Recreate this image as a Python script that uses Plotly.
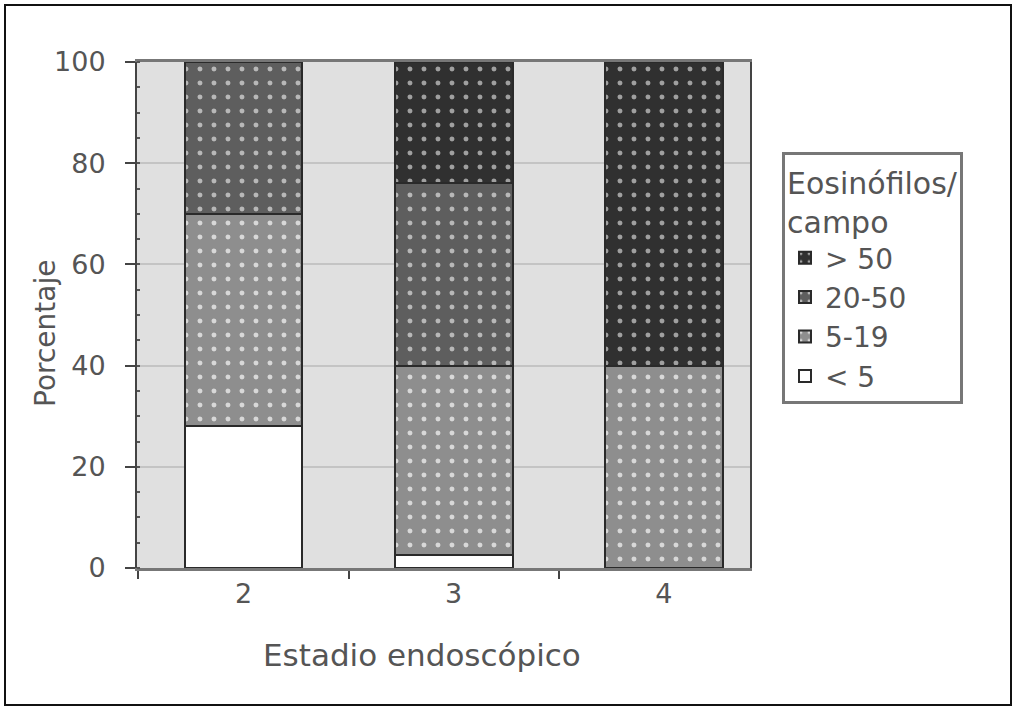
import plotly.graph_objects as go

categories = ["2", "3", "4"]
series_names = ["< 5", "5-19", "20-50", "> 50"]
lt5 = [28, 2.5, 0]
s5_19 = [42, 37.5, 40]
s20_50 = [30, 36, 0]
gt50 = [0, 24, 60]
y_ticks = [0, 20, 40, 60, 80, 100]

values = [lt5, s5_19, s20_50, gt50]
fills = ["#ffffff", "#8e8e8e", "#5e5e5e", "#303030"]
dots = ["#ffffff", "#d8d8d8", "#b8b8b8", "#a0a0a0"]

fig = go.Figure()
for name, vals, fc, dc in zip(series_names, values, fills, dots):
    pattern = dict(shape="." if fc != "#ffffff" else "", fgcolor=dc, bgcolor=fc,
                   size=14, solidity=0.1, fillmode="replace")
    fig.add_trace(go.Bar(
        x=categories, y=vals, name=name, width=0.56,
        marker=dict(color=fc, pattern=pattern,
                    line=dict(color="#2a2a2a", width=2)),
    ))

W, H = 1017, 710
L, R, T, B = 137, 267, 62, 142
pw, ph = W - L - R, H - T - B

def px(x):
    return (x - L) / pw

def py(y):
    return (H - B - y) / ph

FONT = "DejaVu Sans, Verdana, sans-serif"
TXT = "#555555"

fig.update_layout(
    width=W, height=H,
    barmode="stack",
    paper_bgcolor="white",
    plot_bgcolor="#e0e0e0",
    margin=dict(l=L, r=R, t=T, b=B, pad=0),
    font=dict(family=FONT, color=TXT, size=26),
    showlegend=True,
    legend=dict(
        title=dict(text="Eosinófilos/<br>campo", font=dict(size=30, color=TXT)),
        traceorder="reversed",
        x=px(782), y=py(152), xanchor="left", yanchor="top",
        bgcolor="white", bordercolor="#777777", borderwidth=3,
        font=dict(size=28, color=TXT),
        itemsizing="constant",
        tracegroupgap=0,
    ),
    xaxis=dict(
        type="category",
        range=[-0.507, 2.41],
        tickson="boundaries",
        ticks="outside", ticklen=8, tickcolor="#444444", tickwidth=2,
        showline=True, linecolor="#777777", linewidth=3, mirror=True,
        showgrid=False,
        tickfont=dict(size=27, color=TXT),
    ),
    yaxis=dict(
        range=[0, 100],
        tickvals=y_ticks,
        ticks="outside", ticklen=10, tickcolor="#444444", tickwidth=2,
        ticklabelstandoff=14,
        minor=dict(dtick=5, ticks="inside", ticklen=3, tickcolor="#555555", showgrid=False),
        showline=True, linecolor="#444444", linewidth=2, mirror=True,
        showgrid=True, gridcolor="#c4c4c4", gridwidth=2,
        tickfont=dict(size=27, color=TXT),
        zeroline=False,
    ),
    annotations=[
        dict(text="Estadio endoscópico", xref="paper", yref="paper",
             x=px(422), y=py(655), xanchor="center", yanchor="middle",
             showarrow=False, font=dict(size=31, color=TXT)),
        dict(text="Porcentaje", xref="paper", yref="paper",
             x=px(45), y=py(334), xanchor="center", yanchor="middle",
             textangle=-90, showarrow=False, font=dict(size=28, color=TXT)),
    ],
    shapes=[dict(
        type="rect", xref="paper", yref="paper",
        x0=px(5), x1=px(1011), y0=py(705), y1=py(5),
        line=dict(color="#111111", width=2), fillcolor="rgba(0,0,0,0)", layer="below",
    )],
)

fig.write_html("out.html", config={"displayModeBar": False},
               post_script="document.body.style.margin='0';document.body.style.padding='0';")
